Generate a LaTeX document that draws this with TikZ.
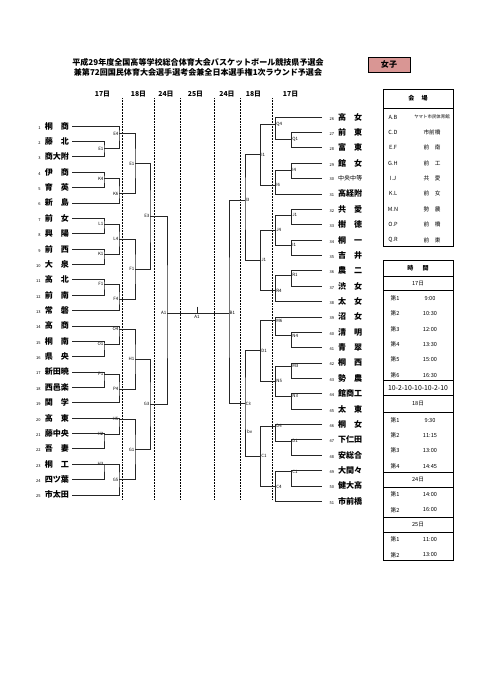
\documentclass[tikz,border=0pt]{standalone}
\usepackage{fontspec}
\setmainfont{Noto Sans CJK JP}
\usepackage{xcolor}
\usepackage{tikz}
\usetikzlibrary{positioning}

\definecolor{rosa}{RGB}{217,150,148}
\newcommand\tnum[1]{\makebox[3.9mm][r]{\fontsize{5}{5}\selectfont\mdseries #1}\hspace{1.8mm}}
\newcommand\two[2]{\makebox[10.5mm][s]{#1\hfill#2}}
\newcommand\three[1]{\makebox[10.5mm]{#1}}

\begin{document}
\begin{tikzpicture}[x=0.4366mm, y=-0.4366mm,
  lteam/.style={anchor=east, inner xsep=1.3mm, inner ysep=0pt, minimum height=6.57mm, font=\fontsize{10}{10}\selectfont\bfseries},
  rteam/.style={lteam, anchor=west},
  lcode/.style={anchor=east, inner sep=0.6pt, font=\fontsize{5.5}{5.5}\selectfont},
  rcode/.style={lcode, anchor=west},
  day/.style={font=\fontsize{8.5}{8.5}\selectfont\bfseries},
  dotline/.style={densely dotted, line width=0.9pt},
  bline/.style={line width=0.7pt, black!85},
  tabline/.style={line width=1pt},
  thead/.style={font=\fontsize{7.5}{7.5}\selectfont\bfseries},
  tcell/.style={inner sep=0pt, minimum height=6.57mm, font=\fontsize{7}{7}\selectfont},
  node distance=0cm]

      \useasboundingbox (0,0) rectangle (481,680);

      % Kopf
      \node[align=center, font=\fontsize{10}{12.4}\selectfont\bfseries] (headline) at (198,67.7)
        {平成29年度全国高等学校総合体育大会バスケットボール競技県予選会\\兼第72回国民体育大会選手選考会兼全日本選手権1次ラウンド予選会};
      \node[draw, fill=rosa, line width=0.8pt, minimum width=18.3mm, minimum height=6.5mm, font=\fontsize{10}{10}\selectfont\bfseries] (sex) at (389,64.7) {女子};

      % Tage
      \node[day] (d1) at (102.5,94.5) {17日};
      \node[day] (d2) at (138.5,94.5) {18日};
      \node[day] (d3) at (166,94.5) {24日};
      \node[day] (d4) at (195.5,94.5) {25日};
      \node[day] (d5) at (227,94.5) {24日};
      \node[day] (d6) at (253.5,94.5) {18日};
      \node[day] (d7) at (290.5,94.5) {17日};
      \draw[dotline] (122.3,98) -- (122.3,500) (154.3,98) -- (154.3,500) (180.7,98) -- (180.7,500)
        (214,98) -- (214,500) (240,98) -- (240,500) (272.3,98) -- (272.3,500);

      % Linke Seite
      \node[lteam] (t1) at (72,126) {\tnum{1}\two{桐}{商}};
      \node[lteam, below=of t1] (t2) {\tnum{2}\two{藤}{北}};
      \node[lteam, below=of t2] (t3) {\tnum{3}\three{商大附}};
      \node[lteam, below=of t3] (t4) {\tnum{4}\two{伊}{商}};
      \node[lteam, below=of t4] (t5) {\tnum{5}\two{育}{英}};
      \node[lteam, below=of t5] (t6) {\tnum{6}\two{新}{島}};
      \node[lteam, below=of t6] (t7) {\tnum{7}\two{前}{女}};
      \node[lteam, below=of t7] (t8) {\tnum{8}\two{興}{陽}};
      \node[lteam, below=of t8] (t9) {\tnum{9}\two{前}{西}};
      \node[lteam, below=of t9] (t10) {\tnum{10}\two{大}{泉}};
      \node[lteam, below=of t10] (t11) {\tnum{11}\two{高}{北}};
      \node[lteam, below=of t11] (t12) {\tnum{12}\two{前}{南}};
      \node[lteam, below=of t12] (t13) {\tnum{13}\two{常}{磐}};
      \node[lteam, below=of t13] (t14) {\tnum{14}\two{高}{商}};
      \node[lteam, below=of t14] (t15) {\tnum{15}\two{桐}{南}};
      \node[lteam, below=of t15] (t16) {\tnum{16}\two{県}{央}};
      \node[lteam, below=of t16] (t17) {\tnum{17}\three{新田暁}};
      \node[lteam, below=of t17] (t18) {\tnum{18}\three{西邑楽}};
      \node[lteam, below=of t18] (t19) {\tnum{19}\two{関}{学}};
      \node[lteam, below=of t19] (t20) {\tnum{20}\two{高}{東}};
      \node[lteam, below=of t20] (t21) {\tnum{21}\three{藤中央}};
      \node[lteam, below=of t21] (t22) {\tnum{22}\two{吾}{妻}};
      \node[lteam, below=of t22] (t23) {\tnum{23}\two{桐}{工}};
      \node[lteam, below=of t23] (t24) {\tnum{24}\three{四ツ葉}};
      \node[lteam, below=of t24] (t25) {\tnum{25}\three{市太田}};

      % Rechte Seite
      \node[rteam] (t26) at (322,117) {\tnum{26}\two{高}{女}};
      \node[rteam, below=of t26] (t27) {\tnum{27}\two{前}{東}};
      \node[rteam, below=of t27] (t28) {\tnum{28}\two{富}{東}};
      \node[rteam, below=of t28] (t29) {\tnum{29}\two{館}{女}};
      \node[rteam, below=of t29] (t30) {\tnum{30}\three{\fontsize{7.5}{7.5}\selectfont\mdseries 中央中等}};
      \node[rteam, below=of t30] (t31) {\tnum{31}\three{高経附}};
      \node[rteam, below=of t31] (t32) {\tnum{32}\two{共}{愛}};
      \node[rteam, below=of t32] (t33) {\tnum{33}\two{樹}{徳}};
      \node[rteam, below=of t33] (t34) {\tnum{34}\two{桐}{一}};
      \node[rteam, below=of t34] (t35) {\tnum{35}\two{吉}{井}};
      \node[rteam, below=of t35] (t36) {\tnum{36}\two{農}{二}};
      \node[rteam, below=of t36] (t37) {\tnum{37}\two{渋}{女}};
      \node[rteam, below=of t37] (t38) {\tnum{38}\two{太}{女}};
      \node[rteam, below=of t38] (t39) {\tnum{39}\two{沼}{女}};
      \node[rteam, below=of t39] (t40) {\tnum{40}\two{清}{明}};
      \node[rteam, below=of t40] (t41) {\tnum{41}\two{青}{翠}};
      \node[rteam, below=of t41] (t42) {\tnum{42}\two{桐}{西}};
      \node[rteam, below=of t42] (t43) {\tnum{43}\two{勢}{農}};
      \node[rteam, below=of t43] (t44) {\tnum{44}\three{館商工}};
      \node[rteam, below=of t44] (t45) {\tnum{45}\two{太}{東}};
      \node[rteam, below=of t45] (t46) {\tnum{46}\two{桐}{女}};
      \node[rteam, below=of t46] (t47) {\tnum{47}\three{下仁田}};
      \node[rteam, below=of t47] (t48) {\tnum{48}\three{安総合}};
      \node[rteam, below=of t48] (t49) {\tnum{49}\three{大間々}};
      \node[rteam, below=of t49] (t50) {\tnum{50}\three{健大高}};
      \node[rteam, below=of t50] (t51) {\tnum{51}\three{市前橋}};

      % Spiele links
      \node[lcode] (e1) at (104,148.6) {E1};
      \node[lcode] (e4) at (119,133.5) {E4};
      \node[lcode] (k4) at (104,178.6) {K4};
      \node[lcode] (k6) at (119,193.7) {K6};
      \node[lcode] (l1) at (104,223.8) {L1};
      \node[lcode] (k1) at (104,253.8) {K1};
      \node[lcode] (l4) at (119,238.8) {L4};
      \node[lcode] (f1) at (104,283.9) {F1};
      \node[lcode] (f4) at (119,299.0) {F4};
      \node[lcode] (o1) at (104,344.1) {O1};
      \node[lcode] (o4) at (119,329.0) {O4};
      \node[lcode] (p1) at (104,374.2) {P1};
      \node[lcode] (p4) at (119,389.2) {P4};
      \node[lcode] (h2) at (104,434.3) {H2};
      \node[lcode] (h5) at (119,419.3) {H5};
      \node[lcode] (h3) at (104,464.4) {H3};
      \node[lcode] (g5) at (119,479.4) {G5};
      \node[lcode] (e1b) at (135,163.6) {E1};
      \node[lcode] (f1b) at (135,268.9) {F1};
      \node[lcode] (h1) at (135,359.1) {H1};
      \node[lcode] (g1) at (135,449.4) {G1};
      \node[lcode] (e3) at (150,216.2) {E3};
      \node[lcode] (g3) at (150,404.2) {G3};
      \node[lcode] (a1l) at (167,313) {A1};

      % Spiele rechts
      \node[rcode] (q1) at (291.7,139.6) {Q1};
      \node[rcode] (q4) at (275.7,124.5) {Q4};
      \node[rcode] (i4) at (291.7,169.8) {I4};
      \node[rcode] (i6) at (275.7,184.9) {I6};
      \node[rcode] (j1) at (291.7,215.0) {J1};
      \node[rcode] (i1) at (291.7,245.2) {I1};
      \node[rcode] (j4) at (275.7,230.1) {J4};
      \node[rcode] (r1) at (291.7,275.3) {R1};
      \node[rcode] (r4) at (275.7,290.4) {R4};
      \node[rcode] (n4) at (291.7,335.7) {N4};
      \node[rcode] (m6) at (275.7,320.6) {M6};
      \node[rcode] (m3) at (291.7,365.8) {M3};
      \node[rcode] (n3) at (291.7,396.0) {N3};
      \node[rcode] (n5) at (275.7,380.9) {N5};
      \node[rcode] (d1) at (291.7,441.2) {D1};
      \node[rcode] (d4) at (275.7,426.1) {D4};
      \node[rcode] (c1) at (291.7,471.4) {C1};
      \node[rcode] (c4) at (275.7,486.5) {C4};
      \node[rcode] (i1b) at (260.7,154.7) {I1};
      \node[rcode] (j1b) at (260.7,260.3) {J1};
      \node[rcode] (d1b) at (260.7,350.7) {D1};
      \node[rcode] (c1b) at (260.7,456.3) {C1};
      \node[rcode] (i3) at (245,199.9) {I3};
      \node[rcode] (c3) at (245,403.5) {C3};
      \node[rcode] (b1) at (229,313) {B1};
      \node[rcode] (bv) at (246.5,432) {bv};

      % Finale
      \node[lcode, anchor=north] (a1) at (197,314.5) {A1};
      \coordinate (finTop) at (197,306.5);

      % Linien links
      \begin{scope}[bline]
      \draw (t2.east) -| (e1.east) |- (t3.east);
      \draw (t1.east) -| (e4.east) |- (e1.east);
      \draw (t4.east) -| (k4.east) |- (t5.east);
      \draw (k4.east) -| (k6.east) |- (t6.east);
      \draw (t7.east) -| (l1.east) |- (t8.east);
      \draw (t9.east) -| (k1.east) |- (t10.east);
      \draw (l1.east) -| (l4.east) |- (k1.east);
      \draw (t11.east) -| (f1.east) |- (t12.east);
      \draw (f1.east) -| (f4.east) |- (t13.east);
      \draw (t15.east) -| (o1.east) |- (t16.east);
      \draw (t14.east) -| (o4.east) |- (o1.east);
      \draw (t17.east) -| (p1.east) |- (t18.east);
      \draw (p1.east) -| (p4.east) |- (t19.east);
      \draw (t21.east) -| (h2.east) |- (t22.east);
      \draw (t20.east) -| (h5.east) |- (h2.east);
      \draw (t23.east) -| (h3.east) |- (t24.east);
      \draw (h3.east) -| (g5.east) |- (t25.east);
      \draw (e4.east) -| (e1b.east) |- (k6.east);
      \draw (l4.east) -| (f1b.east) |- (f4.east);
      \draw (o4.east) -| (h1.east) |- (p4.east);
      \draw (h5.east) -| (g1.east) |- (g5.east);
      \draw (e1b.east) -| (e3.east) |- (f1b.east);
      \draw (h1.east) -| (g3.east) |- (g1.east);
      \draw (e3.east) -| (a1l.east) |- (g3.east);

      % Linien rechts
      \draw (t27.west) -| (q1.west) |- (t28.west);
      \draw (t26.west) -| (q4.west) |- (q1.west);
      \draw (t29.west) -| (i4.west) |- (t30.west);
      \draw (i4.west) -| (i6.west) |- (t31.west);
      \draw (t32.west) -| (j1.west) |- (t33.west);
      \draw (t34.west) -| (i1.west) |- (t35.west);
      \draw (j1.west) -| (j4.west) |- (i1.west);
      \draw (t36.west) -| (r1.west) |- (t37.west);
      \draw (r1.west) -| (r4.west) |- (t38.west);
      \draw (t40.west) -| (n4.west) |- (t41.west);
      \draw (t39.west) -| (m6.west) |- (n4.west);
      \draw (t42.west) -| (m3.west) |- (t43.west);
      \draw (t44.west) -| (n3.west) |- (t45.west);
      \draw (m3.west) -| (n5.west) |- (n3.west);
      \draw (t47.west) -| (d1.west) |- (t48.west);
      \draw (t46.west) -| (d4.west) |- (d1.west);
      \draw (t49.west) -| (c1.west) |- (t50.west);
      \draw (c1.west) -| (c4.west) |- (t51.west);
      \draw (q4.west) -| (i1b.west) |- (i6.west);
      \draw (j4.west) -| (j1b.west) |- (r4.west);
      \draw (m6.west) -| (d1b.west) |- (n5.west);
      \draw (d4.west) -| (c1b.west) |- (c4.west);
      \draw (i1b.west) -| (i3.west) |- (j1b.west);
      \draw (d1b.west) -| (c3.west) |- (c1b.west);
      \draw (i3.west) -| (b1.west) |- (c3.west);

      % Finale
      \draw (a1l.east) -- (b1.west);
      \draw (finTop) -- (finTop |- a1l.east);
      \end{scope}

      % Tabelle Spielorte
      \draw[tabline] (383,89) rectangle (453,246.5);
      \draw[tabline] (383,108) -- (453,108);
      \node[thead] (vhead) at (418,98.5) {会\hspace{1.2em}場};
      \node[tcell] (v1) at (393,117) {A.B};
      \node[tcell, below=of v1] (v2) {C.D};
      \node[tcell, below=of v2] (v3) {E.F};
      \node[tcell, below=of v3] (v4) {G.H};
      \node[tcell, below=of v4] (v5) {I.J};
      \node[tcell, below=of v5] (v6) {K.L};
      \node[tcell, below=of v6] (v7) {M.N};
      \node[tcell, below=of v7] (v8) {O.P};
      \node[tcell, below=of v8] (v9) {Q.R};
      \node[tcell] (w1) at (432,117) {\fontsize{5.5}{5.5}\selectfont ヤマト市民体育館};
      \node[tcell, below=of w1] (w2) {市前橋};
      \node[tcell, below=of w2] (w3) {前\hspace{1em}南};
      \node[tcell, below=of w3] (w4) {前\hspace{1em}工};
      \node[tcell, below=of w4] (w5) {共\hspace{1em}愛};
      \node[tcell, below=of w5] (w6) {前\hspace{1em}女};
      \node[tcell, below=of w6] (w7) {勢\hspace{1em}農};
      \node[tcell, below=of w7] (w8) {前\hspace{1em}橋};
      \node[tcell, below=of w8] (w9) {前\hspace{1em}東};

      % Tabelle Zeiten
      \draw[tabline] (383,260.7) rectangle (453,560.7);
      \draw[tabline] (383,276) -- (453,276) (383,290.7) -- (453,290.7) (383,380.7) -- (453,380.7)
        (383,395) -- (453,395) (383,412.7) -- (453,412.7) (383,472.3) -- (453,472.3)
        (383,487.3) -- (453,487.3) (383,517.3) -- (453,517.3) (383,532.3) -- (453,532.3);
      \node[thead] (thead) at (418,268.3) {時\hspace{1.5em}間};
      \node[tcell] (day17) at (418,283.3) {17日};
      \node[tcell] (s1) at (395,298.3) {第1};
      \node[tcell, below=of s1] (s2) {第2};
      \node[tcell, below=of s2] (s3) {第3};
      \node[tcell, below=of s3] (s4) {第4};
      \node[tcell, below=of s4] (s5) {第5};
      \node[tcell, below=of s5] (s6) {第6};
      \node[tcell] (z1) at (430,298.3) {9:00};
      \node[tcell, below=of z1] (z2) {10:30};
      \node[tcell, below=of z2] (z3) {12:00};
      \node[tcell, below=of z3] (z4) {13:30};
      \node[tcell, below=of z4] (z5) {15:00};
      \node[tcell, below=of z5] (z6) {16:30};
      \node[tcell] (pat) at (418,387.8) {\fontsize{8.5}{8.5}\selectfont 10-2-10-10-10-2-10};
      \node[tcell] (day18) at (418,404) {18日};
      \node[tcell] (s7) at (395,420) {第1};
      \node[tcell, below=of s7] (s8) {第2};
      \node[tcell, below=of s8] (s9) {第3};
      \node[tcell, below=of s9] (s10) {第4};
      \node[tcell] (z7) at (430,420) {9:30};
      \node[tcell, below=of z7] (z8) {11:15};
      \node[tcell, below=of z8] (z9) {13:00};
      \node[tcell, below=of z9] (z10) {14:45};
      \node[tcell] (day24) at (418,479.8) {24日};
      \node[tcell] (s11) at (395,494.5) {第1};
      \node[tcell, below=of s11] (s12) {第2};
      \node[tcell] (z11) at (430,494.5) {14:00};
      \node[tcell, below=of z11] (z12) {16:00};
      \node[tcell] (day25) at (418,524.8) {25日};
      \node[tcell] (s13) at (395,539.5) {第1};
      \node[tcell, below=of s13] (s14) {第2};
      \node[tcell] (z13) at (430,539.5) {11:00};
      \node[tcell, below=of z13] (z14) {13:00};

      \end{tikzpicture}
\end{document}
